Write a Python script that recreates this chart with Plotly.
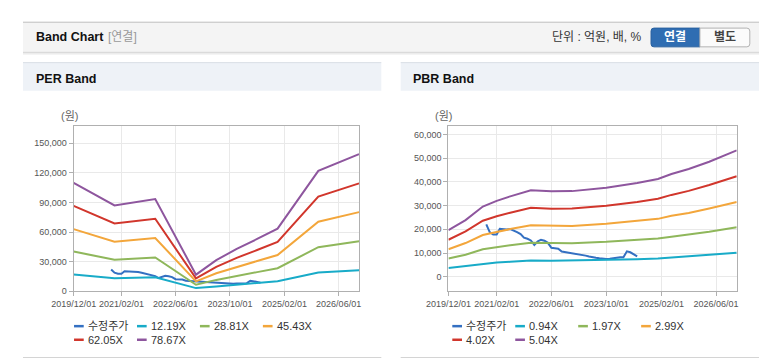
import plotly.graph_objects as go

W, H = 760, 364

# ---------------- data ----------------
per_band_dates = ["2019-12-01", "2020-12-01", "2021-12-01", "2022-12-01", "2023-06-01",
                  "2023-12-01", "2024-06-01", "2024-12-01", "2025-12-01", "2026-12-01"]
per_78_67 = [110000, 87000, 93500, 16800, 31500, 43000, 53000, 63500, 122000, 139000]
per_62_05 = [86500, 68800, 73500, 13000, 24800, 33900, 41800, 50100, 96000, 109400]
per_45_43 = [63000, 50200, 54000, 10000, 18200, 24800, 30600, 36700, 70500, 80200]
per_28_81 = [40200, 32000, 34200, 6600, 11500, 15700, 19400, 23300, 44700, 50800]
per_12_19 = [16900, 13200, 14200, 3200, 4900, 6700, 8200, 10200, 18900, 21200]

pbr_band_dates = ["2019-12-01", "2020-05-01", "2020-10-01", "2021-02-01", "2021-06-01",
                  "2021-12-01", "2022-06-01", "2022-12-01", "2023-10-01", "2024-07-01",
                  "2025-01-01", "2025-05-01", "2025-10-01", "2026-04-01", "2026-12-01"]
pbr_5_04 = [19600, 23900, 29600, 32000, 33900, 36500, 36000, 36100, 37500, 39500,
            41200, 43300, 45400, 48500, 53300]
pbr_4_02 = [15600, 19100, 23600, 25500, 27000, 29100, 28700, 28800, 29900, 31500,
            32900, 34500, 36200, 38700, 42400]
pbr_2_99 = [11600, 14200, 17600, 19000, 20100, 21700, 21400, 21400, 22300, 23400,
            24400, 25700, 26900, 28800, 31500]
pbr_1_97 = [7700, 9300, 11600, 12500, 13300, 14300, 14100, 14100, 14700, 15400,
            16100, 16900, 17800, 19000, 20900]
pbr_0_94 = [3700, 4500, 5500, 6000, 6300, 6800, 6700, 6800, 7100, 7400,
            7700, 8100, 8500, 9100, 10100]

price_dates = ["2020-11-01", "2020-12-01", "2021-01-01", "2021-02-01", "2021-03-01",
               "2021-04-01", "2021-05-01", "2021-06-01", "2021-07-01", "2021-08-01",
               "2021-09-01", "2021-10-01", "2021-11-01", "2021-12-01", "2022-01-01",
               "2022-02-01", "2022-03-01", "2022-04-01", "2022-05-01", "2022-06-01",
               "2022-07-01", "2022-08-01", "2022-09-01", "2022-10-01", "2022-11-01",
               "2022-12-01", "2023-01-01", "2023-02-01", "2023-03-01", "2023-04-01",
               "2023-05-01", "2023-06-01", "2023-07-01", "2023-08-01", "2023-09-01",
               "2023-10-01", "2023-11-01", "2023-12-01", "2024-01-01", "2024-02-01",
               "2024-03-01", "2024-04-01", "2024-05-01", "2024-06-01", "2024-07-01"]
price = [22100, 18800, 17800, 17800, 20200, 20000, 19900, 20100, 19600, 18800,
         18000, 16500, 16000, 15300, 13400, 14900, 15600, 15200, 14300, 12200,
         12000, 11800, 10600, 10400, 10100, 9900, 9800, 9400, 9200, 8900,
         8500, 8400, 8000, 7800, 7600, 7500, 7600, 7900, 8100, 8200,
         8200, 10700, 10300, 9500, 8600]

per_names = ["수정주가", "12.19X", "28.81X", "45.43X", "62.05X", "78.67X"]
pbr_names = ["수정주가", "0.94X", "1.97X", "2.99X", "4.02X", "5.04X"]
colors = ["#3470c2", "#18abc8", "#8fb75b", "#f3a63b", "#d1362c", "#8e569e"]

x_tickvals = ["2019-12-01", "2021-02-01", "2022-06-01", "2023-10-01", "2025-02-01", "2026-06-01"]
x_range = ["2019-12-01", "2026-12-01"]
per_y_ticks = [0, 30000, 60000, 90000, 120000, 150000]
pbr_y_ticks = [0, 10000, 20000, 30000, 40000, 50000, 60000]

# ---------------- figure ----------------
FONT = "Arial, 'Liberation Sans', 'Noto Sans CJK KR', sans-serif"

def px(x):
    return x / W

def py(y):
    return 1 - y / H

fig = go.Figure()

per_series = [per_12_19, per_28_81, per_45_43, per_62_05, per_78_67]
pbr_series = [pbr_0_94, pbr_1_97, pbr_2_99, pbr_4_02, pbr_5_04]

fig.add_trace(go.Scatter(x=price_dates, y=price, mode="lines", name=per_names[0],
                         line=dict(color=colors[0], width=2), xaxis="x", yaxis="y",
                         showlegend=False))
for i, s in enumerate(per_series):
    fig.add_trace(go.Scatter(x=per_band_dates, y=s, mode="lines", name=per_names[i + 1],
                             line=dict(color=colors[i + 1], width=2), xaxis="x", yaxis="y",
                             showlegend=False))

fig.add_trace(go.Scatter(x=price_dates, y=price, mode="lines", name=pbr_names[0],
                         line=dict(color=colors[0], width=2), xaxis="x2", yaxis="y2",
                         showlegend=False))
for i, s in enumerate(pbr_series):
    fig.add_trace(go.Scatter(x=pbr_band_dates, y=s, mode="lines", name=pbr_names[i + 1],
                             line=dict(color=colors[i + 1], width=2), xaxis="x2", yaxis="y2",
                             showlegend=False))

ydom = [py(295.3), py(128)]
axis_common = dict(showline=True, mirror=True, linecolor="#b0b0b0", linewidth=1,
                   showgrid=True, gridcolor="#e9e9e9", gridwidth=1, zeroline=False,
                   ticks="outside", ticklen=4, tickcolor="#b0b0b0",
                   tickfont=dict(family=FONT, size=9, color="#555555"))

fig.update_layout(
    width=W, height=H, margin=dict(l=0, r=0, t=0, b=0),
    paper_bgcolor="white", plot_bgcolor="white",
    font=dict(family=FONT),
    showlegend=False,
    xaxis=dict(domain=[px(52.3), px(347)], type="date", range=x_range,
               tickvals=x_tickvals, tickformat="%Y/%m/%d", anchor="y", **axis_common),
    yaxis=dict(domain=ydom, range=[0, 167300], tickvals=per_y_ticks,
               tickformat=",d", anchor="x", **axis_common),
    xaxis2=dict(domain=[px(439.3), px(737)], type="date", range=x_range,
                tickvals=x_tickvals, tickformat="%Y/%m/%d", anchor="y2", **axis_common),
    yaxis2=dict(domain=ydom, range=[-6125, 63460], tickvals=pbr_y_ticks,
                tickformat=",d", anchor="x2", **axis_common),
)

shapes = []
annotations = []

def rect(x0, y0, x1, y1, fill, line=None, lw=0, layer="below"):
    shapes.append(dict(type="rect", xref="paper", yref="paper",
                       x0=px(x0), x1=px(x1), y0=py(y1), y1=py(y0),
                       fillcolor=fill, line=dict(color=line or fill, width=lw),
                       layer=layer))

def hline(x0, x1, y, color, width=1, layer="below"):
    shapes.append(dict(type="line", xref="paper", yref="paper",
                       x0=px(x0), x1=px(x1), y0=py(y), y1=py(y),
                       line=dict(color=color, width=width), layer=layer))

def rounded(x0, y0, x1, y1, r, left=True, right=True, fill="#fff", line="#aaa"):
    rx, ry = r / W, r / H
    X0, X1, Y0, Y1 = px(x0), px(x1), py(y1), py(y0)  # Y0 bottom, Y1 top
    p = []
    if left:
        p.append(f"M{X0 + rx},{Y1}")
    else:
        p.append(f"M{X0},{Y1}")
    if right:
        p.append(f"L{X1 - rx},{Y1} Q{X1},{Y1} {X1},{Y1 - ry} L{X1},{Y0 + ry} Q{X1},{Y0} {X1 - rx},{Y0}")
    else:
        p.append(f"L{X1},{Y1} L{X1},{Y0}")
    if left:
        p.append(f"L{X0 + rx},{Y0} Q{X0},{Y0} {X0},{Y0 + ry} L{X0},{Y1 - ry} Q{X0},{Y1} {X0 + rx},{Y1} Z")
    else:
        p.append(f"L{X0},{Y0} Z")
    shapes.append(dict(type="path", xref="paper", yref="paper", path=" ".join(p),
                       fillcolor=fill, line=dict(color=line, width=1), layer="above"))

def text(x, y, t, size=12, color="#333", xanchor="left", bold=False):
    annotations.append(dict(xref="paper", yref="paper", x=px(x), y=py(y),
                            text=f"<b>{t}</b>" if bold else t, showarrow=False,
                            xanchor=xanchor, yanchor="middle",
                            font=dict(family=FONT, size=size, color=color)))

# header bar
rect(0, 22.5, 760, 52.5, "#f4f4f4")
hline(0, 760, 22.5, "#bdbdbd")
hline(0, 760, 53, "#cdcdcd")
hline(0, 760, 54, "#e2e2e2")
hline(0, 760, 55, "#f1f1f1")
text(11, 38, "Band Chart", size=12.5, color="#111", bold=True)
text(86, 38, "[연결]", size=12, color="#999")
text(641, 38, "단위 : 억원, 배, %", size=12, color="#333", xanchor="right")
rounded(648.5, 28.5, 699, 47.5, 3, left=True, right=False, fill="#2f6db2", line="#28609f")
rounded(699, 28.5, 750.5, 47.5, 3, left=False, right=True, fill="#fbfbfb", line="#b3b3b3")
text(673.7, 38, "연결", size=12, color="#ffffff", xanchor="center", bold=True)
text(724.8, 38, "별도", size=12, color="#444", xanchor="center", bold=True)

# panels
for (x0, x1, title, ylab_x) in [(0, 370, "PER Band", 47.5), (390, 760, "PBR Band", 434)]:
    rect(x0, 63.5, x1, 92, "#eef2f7")
    hline(x0, x1, 63.5, "#d9dee5")
    hline(x0, x1, 362.5, "#d4d4d4")
    text(x0 + 11, 80.5, title, size=12.5, color="#111", bold=True)
    text(ylab_x, 117.7, "(원)", size=11, color="#666", xanchor="center")

# legends (short line sample + label), four per row
for (lx0, names) in [(52.7, per_names), (443.3, pbr_names)]:
    for i, nm in enumerate(names):
        row, col = divmod(i, 4)
        ly = 330.7 + row * 13.8
        sx = lx0 + col * 65
        hline(sx, sx + 10, ly, colors[i], width=2.5, layer="above")
        text(sx + 12.5, ly, nm, size=11, color="#333")

fig.update_layout(shapes=shapes, annotations=annotations)
fig.write_html("out.html", post_script="document.body.style.margin='0';",
               config={"displayModeBar": False})
